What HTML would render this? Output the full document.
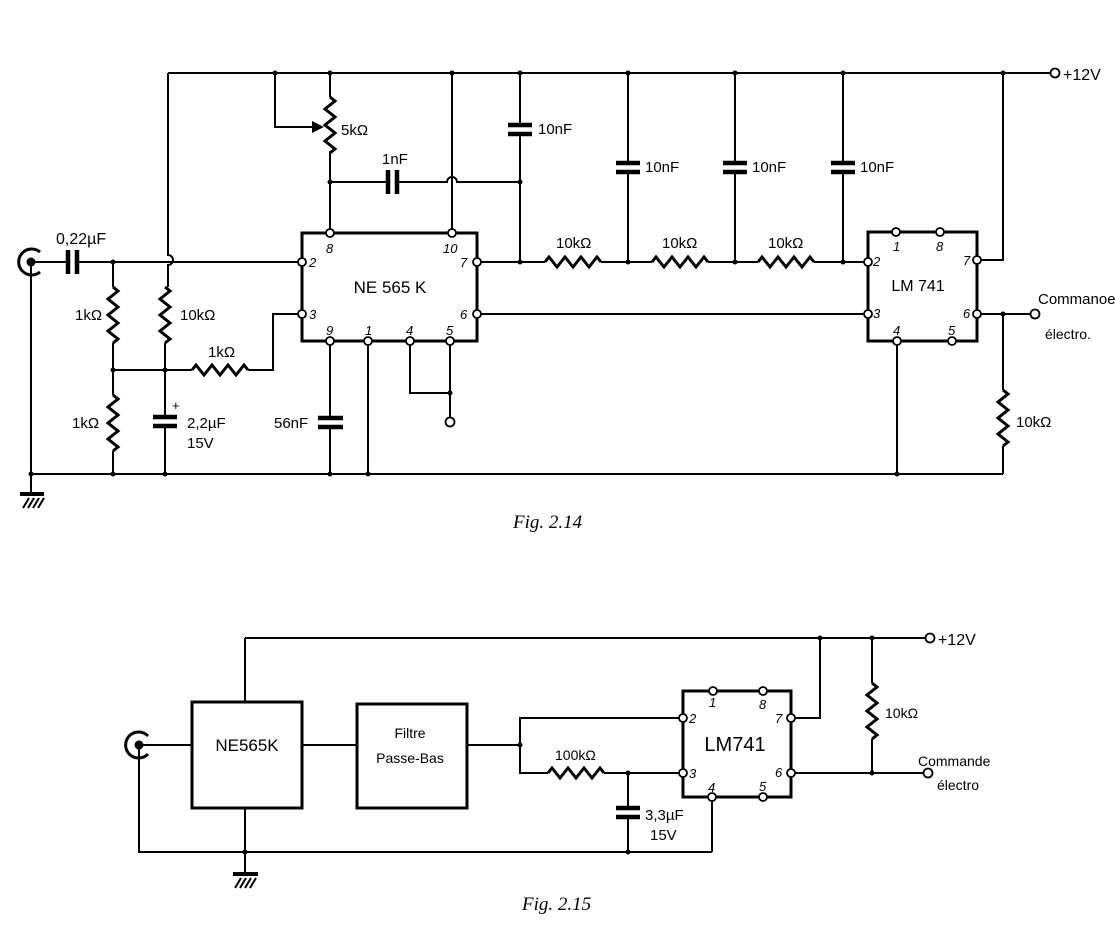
<!DOCTYPE html>
<html><head><meta charset="utf-8"><style>
html,body{margin:0;padding:0;background:#fff;}
svg{display:block;}
text{font-family:"Liberation Sans",sans-serif;fill:#000;}
.w{stroke:#000;stroke-width:2;fill:none;}
.b{stroke:#000;stroke-width:3;fill:none;}
.r{stroke:#000;stroke-width:3;fill:none;stroke-linejoin:miter;}
.p{stroke:#000;stroke-width:4.5;fill:none;}
.pin{fill:#fff;stroke:#000;stroke-width:1.8;}
.cap{font-family:"Liberation Serif",serif;font-style:italic;font-size:19px;}
.n{font-style:italic;font-size:13px;}
</style></head><body>
<svg width="1115" height="941" viewBox="0 0 1115 941" xmlns="http://www.w3.org/2000/svg">
<!-- ========== FIG 2.14 ========== -->
<!-- top rail -->
<path class="w" d="M168 73 H1050"/>
<circle class="pin" cx="1055" cy="73" r="4.5"/>
<text x="1063" y="80" font-size="16">+12V</text>
<!-- left vertical from top rail to 10k with hop -->
<path class="w" d="M168 73 V255 a5 5 0 0 1 0 10 V287"/>
<!-- coax -->
<path class="b" d="M40 252 A13 13 0 1 0 40 272"/>
<circle cx="31" cy="262" r="4.5"/>
<path class="w" d="M31 262 H68 M76 262 H300"/>
<path class="p" d="M68 250 V274 M77 250 V274"/>
<text x="56" y="244" font-size="16">0,22µF</text>
<path class="w" d="M31 262 V474"/>
<!-- ground -->
<path d="M20 492 h24 v4 h-24z" fill="#000"/>
<path class="w" d="M31 474 V492 M23 508 l6 -10 M28 508 l6 -10 M33 508 l6 -10 M38 508 l6 -10" />
<!-- ground rail -->
<path class="w" d="M31 474 H1003"/>
<!-- 1k resistors left -->
<path class="w" d="M113 262 V287 M113 343 V395 M113 451 V474"/>
<path class="r" d="M113 287 l5 4 l-10 8 l10 8 l-10 8 l10 8 l-10 8 l10 8 l-5 4"/>
<path class="r" d="M113 395 l5 4 l-10 8 l10 8 l-10 8 l10 8 l-10 8 l10 8 l-5 4"/>
<text x="75" y="320" font-size="15">1kΩ</text>
<text x="72" y="428" font-size="15">1kΩ</text>
<!-- 10k -->
<path class="r" d="M165 287 l5 4 l-10 8 l10 8 l-10 8 l10 8 l-10 8 l10 8 l-5 4"/>
<path class="w" d="M165 343 V417 M165 426 V474"/>
<text x="180" y="320" font-size="15">10kΩ</text>
<!-- mid node line -->
<path class="w" d="M113 370 H192 M248 370 H273 V314 H300"/>
<path class="r" d="M192 370 l4 -5 l8 10 l8 -10 l8 10 l8 -10 l8 10 l8 -10 l4 5"/>
<text x="208" y="357" font-size="15">1kΩ</text>
<!-- 2.2uF -->
<path class="p" d="M153 417 H177 M153 426 H177"/>
<text x="172" y="410" font-size="13">+</text>
<text x="187" y="428" font-size="15">2,2µF</text>
<text x="187" y="448" font-size="15">15V</text>
<!-- NE565K box -->
<path class="b" d="M302 233 H477 V341 H302 Z"/>
<text x="390" y="293" font-size="17" text-anchor="middle">NE 565 K</text>
<!-- pin 8 / pot -->
<path class="w" d="M330 73 V97 M330 151 V233 M330 182 H388 M396 182 H447 a5 5 0 0 1 10 0 H520"/>
<path class="r" d="M330 97 l5 4 l-10 8 l10 8 l-10 8 l10 8 l-10 8 l10 8 l-5 4"/>
<path class="w" d="M275 73 V127 H312"/>
<path d="M312 121 L324 127 L312 133 Z"/>
<text x="341" y="135" font-size="15">5kΩ</text>
<path class="p" d="M388 170 V194 M397 170 V194"/>
<text x="382" y="164" font-size="15">1nF</text>
<path class="w" d="M452 73 V233"/>
<!-- pin9 56nF -->
<path class="w" d="M330 341 V418 M330 427 V474"/>
<path class="p" d="M318 418 H343 M318 427 H343"/>
<text x="274" y="428" font-size="15">56nF</text>
<path class="w" d="M368 341 V474"/>
<path class="w" d="M410 341 V393 H450 M450 341 V418"/>
<circle class="pin" cx="450" cy="422" r="4.5"/>
<!-- pins 1..10 of NE565 -->
<circle class="pin" cx="330" cy="233" r="4"/><circle class="pin" cx="452" cy="233" r="4"/>
<circle class="pin" cx="302" cy="262" r="4"/><circle class="pin" cx="302" cy="314" r="4"/>
<circle class="pin" cx="477" cy="262" r="4"/><circle class="pin" cx="477" cy="314" r="4"/>
<circle class="pin" cx="330" cy="341" r="4"/><circle class="pin" cx="368" cy="341" r="4"/>
<circle class="pin" cx="410" cy="341" r="4"/><circle class="pin" cx="450" cy="341" r="4"/>
<text class="n" x="326" y="253">8</text><text class="n" x="443" y="253">10</text>
<text class="n" x="309" y="267">2</text><text class="n" x="309" y="319">3</text>
<text class="n" x="460" y="267">7</text><text class="n" x="460" y="319">6</text>
<text class="n" x="326" y="335">9</text><text class="n" x="365" y="335">1</text>
<text class="n" x="406" y="335">4</text><text class="n" x="446" y="335">5</text>
<!-- filter chain -->
<path class="w" d="M481 262 H545 M601 262 H652 M708 262 H758 M814 262 H864"/>
<path class="r" d="M545 262 l4 -5 l8 10 l8 -10 l8 10 l8 -10 l8 10 l8 -10 l4 5"/>
<path class="r" d="M652 262 l4 -5 l8 10 l8 -10 l8 10 l8 -10 l8 10 l8 -10 l4 5"/>
<path class="r" d="M758 262 l4 -5 l8 10 l8 -10 l8 10 l8 -10 l8 10 l8 -10 l4 5"/>
<text x="556" y="248" font-size="15">10kΩ</text>
<text x="662" y="248" font-size="15">10kΩ</text>
<text x="768" y="248" font-size="15">10kΩ</text>
<path class="w" d="M520 73 V125 M520 134 V262"/>
<path class="p" d="M508 125 H532 M508 134 H532"/>
<text x="538" y="134" font-size="15">10nF</text>
<path class="w" d="M628 73 V163 M628 172 V262 M735 73 V163 M735 172 V262 M843 73 V163 M843 172 V262"/>
<path class="p" d="M616 163 H640 M616 172 H640 M723 163 H747 M723 172 H747 M831 163 H855 M831 172 H855"/>
<text x="645" y="172" font-size="15">10nF</text>
<text x="752" y="172" font-size="15">10nF</text>
<text x="860" y="172" font-size="15">10nF</text>
<path class="w" d="M481 314 H864"/>
<!-- LM741 -->
<path class="b" d="M868 232 H977 V341 H868 Z"/>
<text x="918" y="291" font-size="16" text-anchor="middle">LM 741</text>
<path class="w" d="M981 260 H1003 V73 M981 314 H1031 M1003 314 V390 M1003 446 V474 M897 341 V474"/>
<path class="r" d="M1003 390 l5 4 l-10 8 l10 8 l-10 8 l10 8 l-10 8 l10 8 l-5 4"/>
<text x="1016" y="427" font-size="15">10kΩ</text>
<circle class="pin" cx="1035" cy="314" r="4.5"/>
<text x="1038" y="304" font-size="15">Commanoe</text>
<text x="1045" y="339" font-size="14">électro.</text>
<circle class="pin" cx="896" cy="232" r="4"/><circle class="pin" cx="940" cy="232" r="4"/>
<circle class="pin" cx="868" cy="262" r="4"/><circle class="pin" cx="868" cy="314" r="4"/>
<circle class="pin" cx="977" cy="260" r="4"/><circle class="pin" cx="977" cy="314" r="4"/>
<circle class="pin" cx="897" cy="341" r="4"/><circle class="pin" cx="952" cy="341" r="4"/>
<text class="n" x="893" y="251">1</text><text class="n" x="936" y="251">8</text>
<text class="n" x="873" y="266">2</text><text class="n" x="873" y="318">3</text>
<text class="n" x="963" y="265">7</text><text class="n" x="963" y="318">6</text>
<text class="n" x="893" y="335">4</text><text class="n" x="948" y="335">5</text>
<!-- dots -->
<g>
<circle cx="275" cy="73" r="2.5"/><circle cx="330" cy="73" r="2.5"/><circle cx="452" cy="73" r="2.5"/>
<circle cx="520" cy="73" r="2.5"/><circle cx="628" cy="73" r="2.5"/><circle cx="735" cy="73" r="2.5"/>
<circle cx="843" cy="73" r="2.5"/><circle cx="1003" cy="73" r="2.5"/>
<circle cx="330" cy="182" r="2.5"/><circle cx="520" cy="182" r="2.5"/>
<circle cx="113" cy="262" r="2.5"/><circle cx="520" cy="262" r="2.5"/><circle cx="628" cy="262" r="2.5"/>
<circle cx="735" cy="262" r="2.5"/><circle cx="843" cy="262" r="2.5"/>
<circle cx="113" cy="370" r="2.5"/><circle cx="165" cy="370" r="2.5"/>
<circle cx="31" cy="474" r="2.5"/><circle cx="113" cy="474" r="2.5"/><circle cx="165" cy="474" r="2.5"/>
<circle cx="330" cy="474" r="2.5"/><circle cx="368" cy="474" r="2.5"/><circle cx="897" cy="474" r="2.5"/>
<circle cx="450" cy="393" r="2.5"/><circle cx="1003" cy="314" r="2.5"/>
</g>
<text class="cap" x="513" y="528">Fig. 2.14</text>

<!-- ========== FIG 2.15 ========== -->
<path class="w" d="M245 638 H926"/>
<circle class="pin" cx="930" cy="638" r="4.5"/>
<text x="938" y="645" font-size="16">+12V</text>
<path class="b" d="M148 736 A13 13 0 1 0 148 754"/>
<circle cx="139" cy="745" r="4.5"/>
<path class="w" d="M139 745 H192 M139 745 V852 H712 M245 638 V702 M245 808 V872"/>
<path d="M233 872 h25 v4 h-25z"/>
<path class="w" d="M235 888 l6 -10 M240 888 l6 -10 M245 888 l6 -10 M250 888 l6 -10"/>
<path class="b" d="M192 702 H302 V808 H192 Z"/>
<text x="247" y="751" font-size="17" text-anchor="middle">NE565K</text>
<path class="w" d="M302 745 H357"/>
<path class="b" d="M357 704 H467 V808 H357 Z"/>
<text x="410" y="738" font-size="14" text-anchor="middle">Filtre</text>
<text x="410" y="763" font-size="14" text-anchor="middle">Passe-Bas</text>
<path class="w" d="M467 745 H520 V718 H679 M520 745 V773 H548 M604 773 H679 M628 773 V808 M628 817 V852 M712 797 V852"/>
<path class="r" d="M548 773 l4 -5 l8 10 l8 -10 l8 10 l8 -10 l8 10 l8 -10 l4 5"/>
<text x="555" y="760" font-size="14">100kΩ</text>
<path class="p" d="M616 808 H640 M616 817 H640"/>
<text x="645" y="820" font-size="15">3,3µF</text>
<text x="650" y="840" font-size="15">15V</text>
<path class="b" d="M683 691 H791 V797 H683 Z"/>
<text x="735" y="751" font-size="20" text-anchor="middle">LM741</text>
<path class="w" d="M795 718 H820 V638 M795 773 H924 M872 638 V683 M872 739 V773"/>
<path class="r" d="M872 683 l5 4 l-10 8 l10 8 l-10 8 l10 8 l-10 8 l10 8 l-5 4"/>
<text x="885" y="718" font-size="14">10kΩ</text>
<circle class="pin" cx="928" cy="773" r="4.5"/>
<text x="918" y="766" font-size="14">Commande</text>
<text x="937" y="790" font-size="14">électro</text>
<circle class="pin" cx="713" cy="691" r="4"/><circle class="pin" cx="763" cy="691" r="4"/>
<circle class="pin" cx="683" cy="718" r="4"/><circle class="pin" cx="683" cy="773" r="4"/>
<circle class="pin" cx="791" cy="718" r="4"/><circle class="pin" cx="791" cy="773" r="4"/>
<circle class="pin" cx="712" cy="797" r="4"/><circle class="pin" cx="763" cy="797" r="4"/>
<text class="n" x="709" y="707">1</text><text class="n" x="759" y="709">8</text>
<text class="n" x="689" y="723">2</text><text class="n" x="689" y="778">3</text>
<text class="n" x="775" y="723">7</text><text class="n" x="775" y="777">6</text>
<text class="n" x="708" y="792">4</text><text class="n" x="759" y="791">5</text>
<g>
<circle cx="820" cy="638" r="2.5"/><circle cx="872" cy="638" r="2.5"/><circle cx="872" cy="773" r="2.5"/>
<circle cx="520" cy="745" r="2.5"/><circle cx="628" cy="773" r="2.5"/>
<circle cx="245" cy="852" r="2.5"/><circle cx="628" cy="852" r="2.5"/>
</g>
<text class="cap" x="522" y="910">Fig. 2.15</text>
</svg>
</body></html>
